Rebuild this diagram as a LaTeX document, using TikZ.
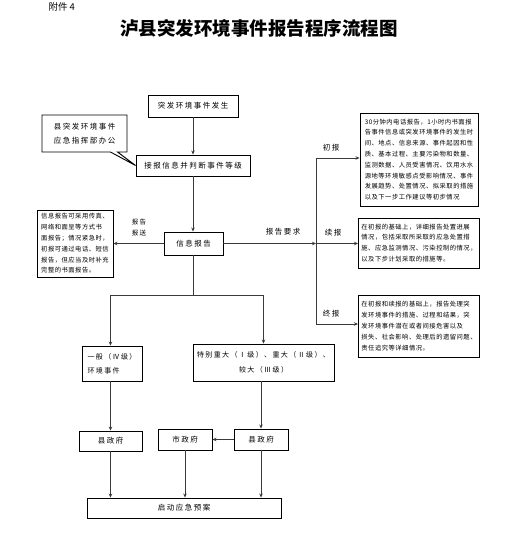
\documentclass[tikz,border=0pt]{standalone}
\usepackage{fontspec}
\setmainfont{Noto Sans CJK SC}
\newfontfamily\cnw[LetterSpace=20]{Noto Sans CJK SC}
\newfontfamily\cnn[LetterSpace=8]{Noto Sans CJK SC}
\usepackage{tikz}
\usetikzlibrary{arrows.meta,shapes.callouts}
\definecolor{linegray}{HTML}{3A3A3A}
\tikzset{
  box/.style={draw=black, line width=0.9pt, fill=white, align=center, inner sep=2pt, font=\cnw\fontsize{7.5}{11}\selectfont},
  note/.style={draw=black, line width=0.9pt, fill=white, align=left, inner sep=3pt, font=\cnn\fontsize{6.3}{10.8}\selectfont},
  callbox/.style={rectangle callout, draw=black, line width=0.9pt, fill=white, align=left, inner sep=3pt, font=\cnw\fontsize{7.5}{14}\selectfont},
  tag/.style={align=center, inner sep=1pt, font=\cnw\fontsize{7.5}{11}\selectfont},
  arrow/.style={-{Stealth[length=4pt,width=3.5pt]}, line width=0.9pt, draw=linegray},
  link/.style={line width=0.9pt, draw=linegray}
}

\begin{document}
\begin{tikzpicture}[x=1pt,y=-1pt]
  \useasboundingbox (0,0) rectangle (518,559);

  \node[anchor=west, font=\fontsize{9.5}{10}\selectfont] (annex) at (45,7) {附件 4};
  \node[font=\bfseries\fontsize{18.5}{20}\selectfont] (title) at (259,28) {泸县突发环境事件报告程序流程图};

  % receiving the report
  \node[box, minimum width=90pt, minimum height=22pt] (occur) at (193,106) {突发环境事件发生};
  \node[box, minimum width=114pt, minimum height=21pt] (receive) at (193,165.5) {接报信息并判断事件等级};
  \node[callbox, minimum width=85pt, minimum height=37pt, callout absolute pointer={(receive.west)}] (office) at (84.5,133.5)
    {县突发环境事件\\应急指挥部办公};

  \node[box, minimum width=59pt, minimum height=23pt] (report) at (193.5,243.5) {信息报告};
  \node[note, minimum width=76pt, minimum height=67pt] (means) at (75,243.5)
    {信息报告可采用传真、\\网络和面呈等方式书\\面报告；情况紧急时，\\初报可通过电话、短信\\报告，但应当及时补充\\完整的书面报告。};
  \node[tag, font=\cnw\fontsize{6.5}{11}\selectfont] (sendtag) at (139,228) {报告\\报送};

  % report types
  \coordinate (t1) at (316,158);
  \coordinate (t2) at (316,243.5);
  \coordinate (t3) at (316,324);
  \node[note, minimum width=118pt, minimum height=93pt] (first) at (419,159.5)
    {30分钟内电话报告，1小时内书面报\\告事件信息或突发环境事件的发生时\\间、地点、信息来源、事件起因和性\\质、基本过程、主要污染物和数量、\\监测数据、人员受害情况、饮用水水\\源地等环境敏感点受影响情况、事件\\发展趋势、处置情况、拟采取的措施\\以及下一步工作建议等初步情况};
  \node[note, minimum width=118pt, minimum height=50pt] (follow) at (419,243)
    {在初报的基础上，详细报告处置进展\\情况，包括采取所采取的应急处置措\\施、应急监测情况、污染控制的情况，\\以及下步计划采取的措施等。};
  \node[note, minimum width=116pt, minimum height=62pt] (final) at (419,326)
    {在初报和续报的基础上，报告处理突\\发环境事件的措施、过程和结果，突\\发环境事件潜在或者间接危害以及\\损失、社会影响、处理后的遗留问题、\\责任追究等详细情况。};
  \node[tag] (needtag) at (283,232) {报告要求};
  \node[tag] (firsttag) at (331,148) {初报};
  \node[tag] (followtag) at (333,233) {续报};
  \node[tag] (finaltag) at (331,314) {终报};

  % event levels
  \coordinate (fork) at (0,295);
  \node[box, align=left, minimum width=60pt, minimum height=35pt, font=\cnw\fontsize{7}{14}\selectfont] (general) at (112,363.5)
    {一般（Ⅳ级）\\环境事件};
  \node[box, minimum width=141pt, minimum height=37pt, font=\cnw\fontsize{7}{15}\selectfont] (major) at (263.5,362.5)
    {特别重大（Ⅰ级）、重大（Ⅱ级）、\\较大（Ⅲ级）};

  \node[box, minimum width=63pt, minimum height=20pt] (county1) at (110.5,441) {县政府};
  \node[box, minimum width=54pt, minimum height=21pt] (city) at (185,439.5) {市政府};
  \node[box, minimum width=54pt, minimum height=21pt] (county2) at (261,439.5) {县政府};
  \node[box, minimum width=194pt, minimum height=20pt] (plan) at (184,508) {启动应急预案};

  \draw[arrow] (occur.south) -- (occur.south |- receive.north);
  \draw[arrow] (receive.south) -- (receive.south |- report.north);
  \draw[arrow] (report.west) -- (means.east);
  \draw[arrow] (report.east) -- (t2);
  \draw[link] (t1) -- (t3);
  \draw[arrow] (t1) -- (t1 -| first.west);
  \draw[arrow] (t2) -- (t2 -| follow.west);
  \draw[arrow] (t3) -- (t3 -| final.west);

  \draw[link] (report.south) -- (report.south |- fork);
  \draw[link] (county1.north |- fork) -- (major.north |- fork);
  \draw[arrow] (county1.north |- fork) -- (county1.north |- general.north);
  \draw[arrow] (major.north |- fork) -- (major.north);

  \draw[arrow] (county1.north |- general.south) -- (county1.north);
  \draw[arrow] (county2.north |- major.south) -- (county2.north);
  \draw[arrow] (county2.west) -- (city.east);
  \draw[arrow] (county1.south) -- (county1.south |- plan.north);
  \draw[arrow] (city.south) -- (city.south |- plan.north);
  \draw[arrow] (county2.south) -- (county2.south |- plan.north);
\end{tikzpicture}
\end{document}
